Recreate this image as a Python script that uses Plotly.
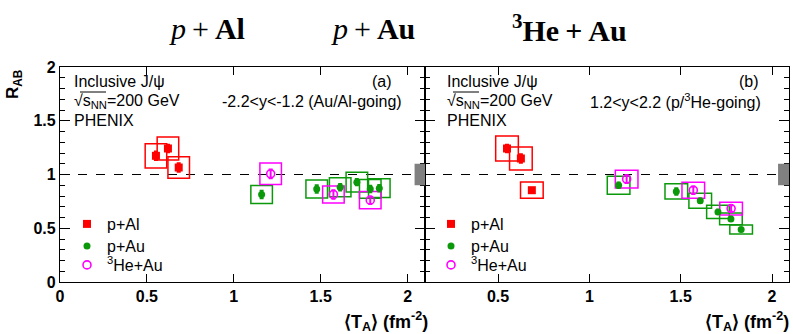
import plotly.graph_objects as go

# ---------------- data ----------------
SPECIES = ["p+Al", "p+Au", "<sup>3</sup>He+Au"]

# panel (a): -2.2<y<-1.2 (Au/Al-going)
A_PAL_T = [0.552, 0.621, 0.683]
A_PAL_R = [1.174, 1.242, 1.065]
A_PAL_STAT = [0.040, 0.035, 0.040]
A_PAL_SYS = [0.113, 0.107, 0.100]

A_PAU_T = [1.160, 1.477, 1.612, 1.708, 1.785, 1.837]
A_PAU_R = [0.814, 0.866, 0.882, 0.929, 0.866, 0.873]
A_PAU_STAT = [0.035, 0.035, 0.030, 0.030, 0.030, 0.030]
A_PAU_SYS = [0.084, 0.084, 0.088, 0.092, 0.087, 0.087]

A_HEAU_T = [1.212, 1.573, 1.785]
A_HEAU_R = [1.006, 0.814, 0.761]
A_HEAU_STAT = [0.040, 0.040, 0.035]
A_HEAU_SYS = [0.100, 0.080, 0.080]

# panel (b): 1.2<y<2.2 (p/3He-going)
B_PAL_T = [0.549, 0.625, 0.685]
B_PAL_R = [1.242, 1.149, 0.854]
B_PAL_STAT = [0.035, 0.040, 0.020]
B_PAL_SYS = [0.116, 0.106, 0.076]

B_PAU_T = [1.160, 1.476, 1.607, 1.704, 1.775, 1.831]
B_PAU_R = [0.900, 0.842, 0.755, 0.652, 0.587, 0.488]
B_PAU_STAT = [0.025, 0.030, 0.020, 0.020, 0.020, 0.015]
B_PAU_SYS = [0.084, 0.071, 0.070, 0.062, 0.054, 0.042]

B_HEAU_T = [1.204, 1.569, 1.776]
B_HEAU_R = [0.957, 0.854, 0.683]
B_HEAU_STAT = [0.035, 0.035, 0.030]
B_HEAU_SYS = [0.082, 0.075, 0.059]

GLOBAL_UNC = 0.10
X_TICKS = [0, 0.5, 1, 1.5, 2]
Y_TICKS = [0, 0.5, 1, 1.5, 2]

# ---------------- style ----------------
W, H = 793, 334
L, R, T, B = 60, 789, 67, 282
SPLIT = 425
BOX_HW = 0.062
GLOBAL_W = 0.06
RED, GREEN, MAG, GREY = "#ff0000", "#0b990b", "#ff00ff", "#808080"
SANS = "Liberation Sans"
LEG_ROWS = [224, 246, 265]


def px(x):
    return (x - L) / (R - L)


def py(y):
    return (B - y) / (B - T)


fig = go.Figure()
shapes = []
annotations = []

panels = [
    ("x", "y", 0, 67,
     [(A_PAL_T, A_PAL_R, A_PAL_STAT, A_PAL_SYS),
      (A_PAU_T, A_PAU_R, A_PAU_STAT, A_PAU_SYS),
      (A_HEAU_T, A_HEAU_R, A_HEAU_STAT, A_HEAU_SYS)], 2.1),
    ("x2", "y2", 3, 431,
     [(B_PAL_T, B_PAL_R, B_PAL_STAT, B_PAL_SYS),
      (B_PAU_T, B_PAU_R, B_PAU_STAT, B_PAU_SYS),
      (B_HEAU_T, B_HEAU_R, B_HEAU_STAT, B_HEAU_SYS)], 2.093),
]

markers = [
    dict(symbol="square", size=8, color=RED),
    dict(symbol="circle", size=7, color=GREEN),
    dict(symbol="circle-open", size=8, color=MAG, line=dict(width=1.6, color=MAG)),
]
colors = [RED, GREEN, MAG]
legends = {}

for xa, ya, leg0, legx, sets, xmax in panels:
    # systematic boxes
    for (tx, rv, st, sy), col in zip(sets, colors):
        for xi, yi, si in zip(tx, rv, sy):
            shapes.append(dict(type="rect", xref=xa, yref=ya,
                               x0=xi - BOX_HW, x1=xi + BOX_HW,
                               y0=yi - si, y1=yi + si,
                               line=dict(color=col, width=1.5), layer="below"))
    # global uncertainty box
    shapes.append(dict(type="rect", xref=xa, yref=ya,
                       x0=xmax - GLOBAL_W, x1=xmax, y0=1 - GLOBAL_UNC, y1=1 + GLOBAL_UNC,
                       fillcolor=GREY, line=dict(width=0), layer="above"))
    # unity line
    shapes.append(dict(type="line", xref=xa + " domain", yref=ya, x0=0, x1=1, y0=1, y1=1,
                       line=dict(color="black", width=1.2, dash="dash"), layer="below"))
    for k, ((tx, rv, st, sy), name, mk, col) in enumerate(zip(sets, SPECIES, markers, colors)):
        n = leg0 + k + 1
        legname = "legend" if n == 1 else "legend%d" % n
        legends[legname] = dict(x=px(legx), y=py(LEG_ROWS[k]), xanchor="left", yanchor="middle",
                                bgcolor="rgba(0,0,0,0)", borderwidth=0,
                                font=dict(family=SANS, size=16, color="black"),
                                itemclick=False, itemdoubleclick=False)
        fig.add_trace(go.Scatter(
            x=tx, y=rv, mode="markers", name=name, xaxis=xa, yaxis=ya, legend=legname,
            marker=mk,
            error_y=dict(type="data", array=st, visible=True, color=col,
                         thickness=2, width=2),
        ))

# panel texts
TXT = dict(family=SANS, size=16, color="black")
for x0, lab, rap, xr_lab, xr_rap in [
        (72, "(a)", "-2.2&lt;y&lt;-1.2 (Au/Al-going)", 394, 404),
        (445, "(b)", "1.2&lt;y&lt;2.2 (p/<sup>3</sup>He-going)", 761, 763)]:
    annotations += [
        dict(text="Inclusive J/ψ", x=px(x0), y=py(81), xanchor="left", yanchor="middle"),
        dict(text="√s<sub>NN</sub>=200 GeV", x=px(x0), y=py(101), xanchor="left", yanchor="middle"),
        dict(text="PHENIX", x=px(x0), y=py(120), xanchor="left", yanchor="middle"),
        dict(text=lab, x=px(xr_lab), y=py(81), xanchor="right", yanchor="middle"),
        dict(text=rap, x=px(xr_rap), y=py(101), xanchor="right", yanchor="middle"),
    ]
    shapes.append(dict(type="line", xref="paper", yref="paper",
                       x0=px(x0 + 8), x1=px(x0 + 34), y0=py(92), y1=py(92),
                       line=dict(color="black", width=1)))

for a in annotations:
    a.update(xref="paper", yref="paper", showarrow=False, font=TXT)

# x-axis titles
XT = "⟨T<sub>A</sub>⟩ (fm<sup>-2</sup>)"
for xr in (430, 791):
    annotations.append(dict(text=XT, x=px(xr), y=py(321), xref="paper", yref="paper",
                            xanchor="right", yanchor="middle", showarrow=False,
                            font=dict(family=SANS, size=18, color="black", weight="bold")))
# y-axis title
annotations.append(dict(text="R<sub>AB</sub>", x=px(14), y=py(84), xref="paper", yref="paper",
                        textangle=-90, xanchor="center", yanchor="middle", showarrow=False,
                        font=dict(family=SANS, size=17, color="black", weight="bold")))
# collision-system headers
SER = dict(family="Liberation Serif", size=30, color="black")
SP = "\u2009"
for xc, txt in [(207, "<i>p</i>" + SP + "+" + SP + "<b>Al</b>"),
                (373, "<i>p</i>" + SP + "+" + SP + "<b>Au</b>"),
                (569, "<b><sup>3</sup>He" + SP + "+" + SP + "Au</b>")]:
    annotations.append(dict(text=txt, x=px(xc), y=py(28), xref="paper", yref="paper",
                            xanchor="center", yanchor="middle", showarrow=False, font=SER))

split = (SPLIT - L) / (R - L)
axis_common = dict(showline=True, linecolor="black", linewidth=1.3, mirror="allticks",
                   ticks="inside", tickcolor="black", showgrid=False, zeroline=False,
                   tickfont=dict(family=SANS, size=16, color="black", weight="bold"))
fig.update_layout(
    width=W, height=H, margin=dict(l=L, r=W - R, t=T, b=H - B),
    paper_bgcolor="white", plot_bgcolor="white",
    xaxis=dict(domain=[0, split], range=[0, 2.1], tickvals=X_TICKS, ticklen=8,
               anchor="y", **axis_common),
    xaxis2=dict(domain=[split, 1], range=[0.1, 2.093], tickvals=X_TICKS, ticklen=8,
                anchor="y2", **axis_common),
    yaxis=dict(domain=[0, 1], range=[0, 2], tickvals=Y_TICKS, ticklen=10, anchor="x",
               minor=dict(ticks="inside", dtick=0.1, ticklen=5, tickcolor="black"),
               **axis_common),
    yaxis2=dict(domain=[0, 1], range=[0, 2], tickvals=Y_TICKS, ticklen=10, anchor="x2",
                showticklabels=False,
                minor=dict(ticks="inside", dtick=0.1, ticklen=5, tickcolor="black"),
                **axis_common),
    shapes=shapes, annotations=annotations, showlegend=True,
)
fig.update_layout(**legends)

fig.write_html("out.html")
